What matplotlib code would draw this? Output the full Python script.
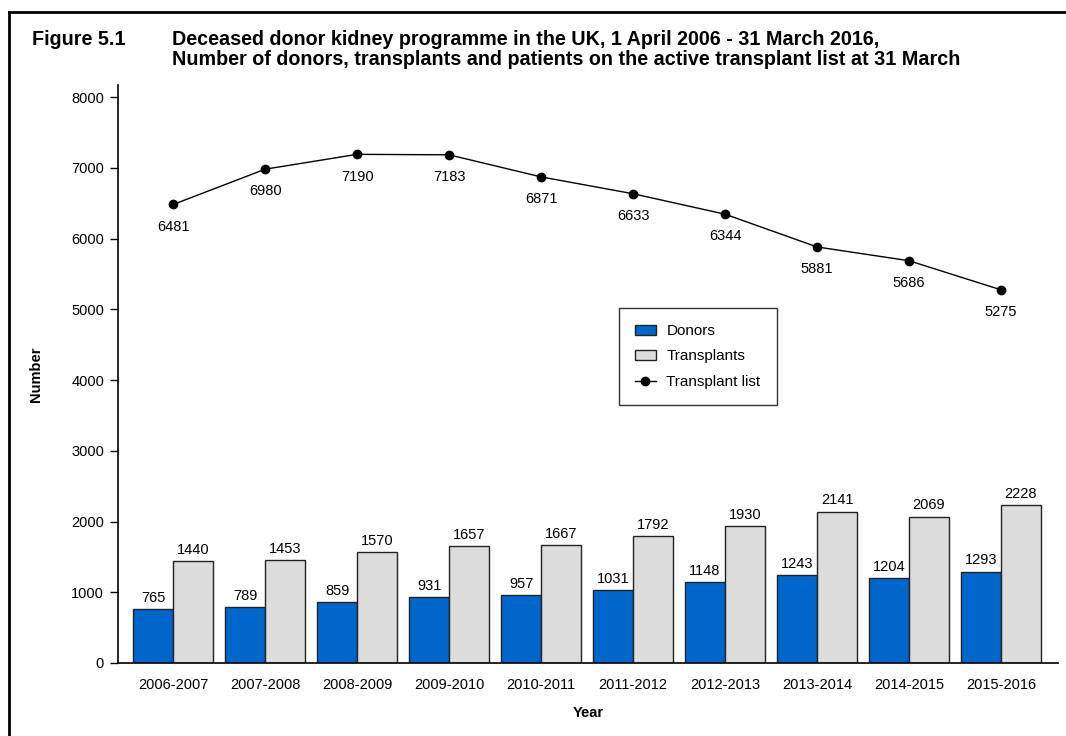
import matplotlib
matplotlib.use("Agg")
import matplotlib.pyplot as plt
from matplotlib.lines import Line2D
import numpy as np

plt.rcParams['font.family'] = ['Liberation Sans', 'DejaVu Sans']

years = ["2006-2007", "2007-2008", "2008-2009", "2009-2010", "2010-2011",
         "2011-2012", "2012-2013", "2013-2014", "2014-2015", "2015-2016"]
donors = [765, 789, 859, 931, 957, 1031, 1148, 1243, 1204, 1293]
transplants = [1440, 1453, 1570, 1657, 1667, 1792, 1930, 2141, 2069, 2228]
waiting_list = [6481, 6980, 7190, 7183, 6871, 6633, 6344, 5881, 5686, 5275]
yticks = [0, 1000, 2000, 3000, 4000, 5000, 6000, 7000, 8000]

fig = plt.figure(figsize=(10.66, 7.36), dpi=100)
ax = fig.add_axes([118/1066, 1-663/736, (1058-118)/1066, (663-85)/736])

x = np.arange(len(years))
w = 0.435
b1 = ax.bar(x - w/2, donors, w, color="#0066CC", edgecolor="#222222", linewidth=1, label="Donors", zorder=2)
b2 = ax.bar(x + w/2, transplants, w, color="#DCDCDC", edgecolor="#222222", linewidth=1, label="Transplants", zorder=2)
l1, = ax.plot(x, waiting_list, color="black", linewidth=1, marker="o", markersize=6, label="Transplant list", zorder=3)

for xi, v in zip(x, donors):
    ax.annotate(str(v), (xi - w/2, v), xytext=(0, 3), textcoords="offset points",
                ha="center", va="bottom", fontsize=10.5)
for xi, v in zip(x, transplants):
    ax.annotate(str(v), (xi + w/2, v), xytext=(0, 3), textcoords="offset points",
                ha="center", va="bottom", fontsize=10.5)
for xi, v in zip(x, waiting_list):
    ax.annotate(str(v), (xi, v), xytext=(0, -11), textcoords="offset points",
                ha="center", va="top", fontsize=10.5)

ax.set_xlim(-0.6, 9.62)
ax.set_ylim(0, 8170)
ax.set_yticks(yticks)
ax.set_yticklabels([str(t) for t in yticks], fontsize=10.5)
ax.set_xticks(x)
ax.set_xticklabels(years, fontsize=10.5)
ax.tick_params(axis="x", length=0, pad=11)
ax.tick_params(axis="y", length=6, width=1, direction="out", pad=4)
for s in ["top", "right"]:
    ax.spines[s].set_visible(False)
for s in ["left", "bottom"]:
    ax.spines[s].set_linewidth(1.2)
ax.set_xlabel("Year", fontsize=10.5, fontweight="bold", labelpad=10)
ax.set_ylabel("Number", fontsize=10.5, fontweight="bold", labelpad=20)

leg = ax.legend([b1, b2, l1], ["Donors", "Transplants", "Transplant list"],
                loc="upper left", bbox_to_anchor=((619-118)/940, (663-308)/578),
                borderaxespad=0, frameon=True, fancybox=False, edgecolor="black",
                fontsize=11, handlelength=1.35, handleheight=0.65, borderpad=1.05,
                labelspacing=0.75, handletextpad=0.7)
leg.get_frame().set_linewidth(1)

fs = 14.2
fig.text(32/1066, 1-45/736, "Figure 5.1", fontsize=fs, fontweight="bold", va="baseline")
fig.text(172/1066, 1-45/736, "Deceased donor kidney programme in the UK, 1 April 2006 - 31 March 2016,",
         fontsize=fs, fontweight="bold", va="baseline")
fig.text(172/1066, 1-65/736, "Number of donors, transplants and patients on the active transplant list at 31 March",
         fontsize=fs, fontweight="bold", va="baseline")

fig.add_artist(Line2D([9/1066, 1], [1-12/736, 1-12/736], color="black", linewidth=2, transform=fig.transFigure))
fig.add_artist(Line2D([9/1066, 9/1066], [0, 1-12/736], color="black", linewidth=2, transform=fig.transFigure))

fig.savefig("out.png", dpi=100)
